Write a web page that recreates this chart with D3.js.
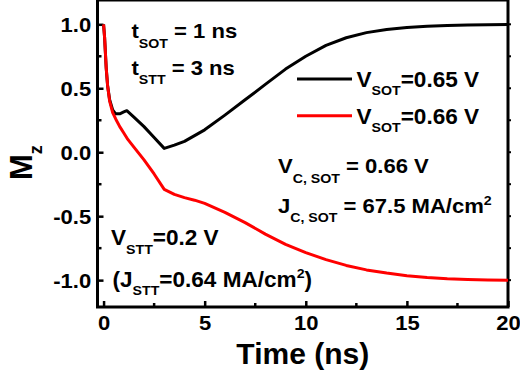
<!DOCTYPE html>
<html>
<head>
<meta charset="utf-8">
<script src="https://cdn.jsdelivr.net/npm/d3@7"></script>
<style>
  html, body { margin: 0; padding: 0; background: #fff; }
  svg { display: block; }
  text { font-family: "Liberation Sans", Arial, sans-serif; font-weight: bold; fill: #000; white-space: pre; }
</style>
</head>
<body>
<svg id="chart" width="520" height="377"></svg>
<script>
// Magnetization Mz(t) for two SOT voltages
const timeBlack = [0, 0.05, 0.13, 0.2, 0.3, 0.45, 0.6, 0.8, 1.0, 1.15, 1.5, 2.0, 2.5, 3.0, 3.5, 4.0, 4.5, 5.0, 6.0, 7.0, 8.0, 9.0, 10.0, 11.0, 12.0, 13.0, 14.0, 15.0, 16.0, 17.0, 18.0, 19.0, 20.0];
const mzBlack   = [1.0, 0.9, 0.66, 0.52, 0.41, 0.33, 0.30, 0.30, 0.315, 0.325, 0.275, 0.20, 0.115, 0.03, 0.055, 0.085, 0.13, 0.175, 0.29, 0.41, 0.53, 0.65, 0.75, 0.835, 0.895, 0.935, 0.96, 0.975, 0.985, 0.99, 0.995, 0.997, 0.998];

const timeRed = [0, 0.05, 0.13, 0.2, 0.3, 0.45, 0.6, 0.8, 1.0, 1.2, 1.5, 2.0, 2.5, 3.0, 3.5, 4.0, 4.5, 5.0, 6.0, 7.0, 8.0, 9.0, 10.0, 11.0, 12.0, 13.0, 14.0, 15.0, 16.0, 17.0, 18.0, 19.0, 20.0];
const mzRed   = [1.0, 0.9, 0.66, 0.52, 0.40, 0.31, 0.26, 0.20, 0.15, 0.10, 0.04, -0.06, -0.17, -0.29, -0.33, -0.355, -0.375, -0.40, -0.47, -0.55, -0.64, -0.72, -0.785, -0.84, -0.885, -0.92, -0.945, -0.965, -0.98, -0.99, -0.995, -0.998, -1.0];

const seriesNames = ["0.65 V", "0.66 V"];
const seriesColors = ["#000000", "#ff0000"];

const xMajor = [0, 5, 10, 15, 20];
const xMinor = [2.5, 7.5, 12.5, 17.5];
const yMajor = [-1.0, -0.5, 0.0, 0.5, 1.0];
const yMinor = [-0.75, -0.25, 0.25, 0.75];

const SX = 1.05; // horizontal stretch of all lettering

const svg = d3.select("#chart");
const L = 97.5, R = 508, T = 0, B = 307;

const x = d3.scaleLinear().domain([-0.3, 20]).range([L, R]);
const y = d3.scaleLinear().domain([-1.21, 1.19]).range([B, T]);

// minor ticks (inward)
const minorG = svg.append("g");
minorG.selectAll(".mx").data(xMinor).join("line")
  .attr("x1", d => x(d)).attr("x2", d => x(d)).attr("y1", B).attr("y2", B - 4)
  .attr("stroke", "#000").attr("stroke-width", 2.5);
minorG.selectAll(".my").data(yMinor).join("line")
  .attr("x1", L).attr("x2", L + 4).attr("y1", d => y(d)).attr("y2", d => y(d))
  .attr("stroke", "#000").attr("stroke-width", 2.5);
// right side marks
minorG.selectAll(".ry").data(yMajor.concat(yMinor)).join("line")
  .attr("x1", R).attr("x2", R + 3).attr("y1", d => y(d)).attr("y2", d => y(d))
  .attr("stroke", "#000").attr("stroke-width", 2);

// axes
const xAxis = svg.append("g").attr("transform", `translate(0,${B})`)
  .call(d3.axisBottom(x).tickValues(xMajor).tickSize(-6).tickPadding(8.5).tickFormat(d => String(d)));
const yAxis = svg.append("g").attr("transform", `translate(${L},0)`)
  .call(d3.axisLeft(y).tickValues(yMajor).tickSize(-6).tickPadding(6).tickFormat(d => d.toFixed(1)));
[xAxis, yAxis].forEach(a => {
  a.select(".domain").remove();
  a.selectAll(".tick line").attr("stroke", "#000").attr("stroke-width", 2.5);
  a.selectAll(".tick text").attr("font-size", 21).attr("font-family", null)
    .attr("fill", "#000").attr("transform", `scale(${SX},1)`);
});
yAxis.selectAll(".tick text").attr("dy", "0.33em");

// frame
svg.append("rect").attr("x", L).attr("y", T).attr("width", R - L).attr("height", B - T)
  .attr("fill", "none").attr("stroke", "#000").attr("stroke-width", 3);

// curves
const line = d3.line().x(d => x(d[0])).y(d => y(d[1]));
const series = [d3.zip(timeBlack, mzBlack), d3.zip(timeRed, mzRed)];
svg.selectAll(".curve").data(series).join("path")
  .attr("d", line).attr("fill", "none")
  .attr("stroke", (d, i) => seriesColors[i]).attr("stroke-width", 3)
  .attr("stroke-linejoin", "round");

// rich text with sub/superscripts: parts are [string, kind] with kind 0 normal, 1 sub, 2 sup
function rich(px, py, size, parts, opts = {}) {
  const subSize = opts.subSize || 13.5;
  const subShift = opts.subShift || 9;
  const supShift = opts.supShift || 8;
  const t = svg.append("text")
    .attr("transform", `translate(${px},${py}) scale(${SX},1)`)
    .attr("font-size", size);
  let cur = 0;
  parts.forEach(([s, k]) => {
    const target = k === 1 ? subShift : k === 2 ? -supShift : 0;
    t.append("tspan").attr("dy", target - cur)
      .attr("font-size", k ? subSize : size).text(s);
    cur = target;
  });
  return t;
}

rich(131.5, 38, 21, [["t", 0], ["SOT", 1], [" = 1 ns", 0]], { subShift: 10 });
rich(131.5, 75, 21, [["t", 0], ["STT", 1], [" = 3 ns", 0]], { subShift: 9 });

// legend
const legY = [79, 115.7];
series.forEach((s, i) => {
  svg.append("line").attr("x1", 297).attr("x2", 352).attr("y1", legY[i]).attr("y2", legY[i])
    .attr("stroke", seriesColors[i]).attr("stroke-width", 3);
  rich(356.5, legY[i] + 8.3, 21.5, [["V", 0], ["SOT", 1], ["=" + seriesNames[i], 0]], { subShift: 8 });
});

rich(278, 173.3, 21, [["V", 0], ["C, SOT", 1], [" = 0.66 V", 0]], { subShift: 9.5 });
rich(278, 212.7, 21, [["J", 0], ["C, SOT", 1], [" = 67.5 MA/cm", 0], ["2", 2]], { subShift: 9.5, supShift: 8 });

rich(111, 245, 21.5, [["V", 0], ["STT", 1], ["=0.2 V", 0]], { subShift: 8.5 });
rich(112.5, 286.7, 21.5, [["(J", 0], ["STT", 1], ["=0.64 MA/cm", 0], ["2", 2], [")", 0]], { subShift: 8.5, supShift: 9 });

// axis titles
svg.append("text").attr("x", (L + R) / 2).attr("y", 363.5).attr("text-anchor", "middle")
  .attr("font-size", 30).text("Time (ns)");

const yt = svg.append("text").attr("transform", "translate(31.5,180) rotate(-90)")
  .attr("font-size", 31);
yt.append("tspan").text("M");
yt.append("tspan").attr("dy", 10).attr("font-size", 18).text("z");
</script>
</body>
</html>
